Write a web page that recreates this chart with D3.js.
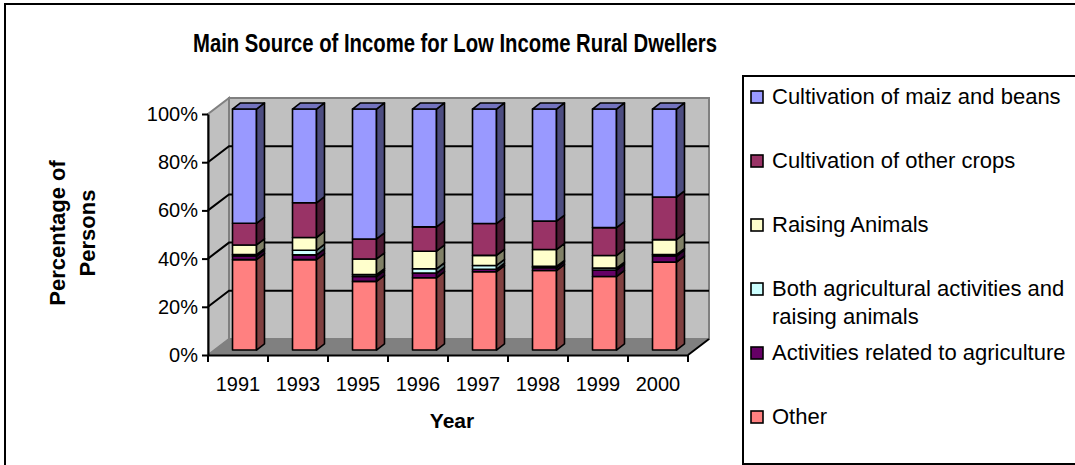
<!DOCTYPE html>
<html>
<head>
<meta charset="utf-8">
<script src="https://cdn.jsdelivr.net/npm/d3@7"></script>
<style>
  body { margin: 0; background: #fff; }
  svg { display: block; font-family: "Liberation Sans", Arial, sans-serif; }
</style>
</head>
<body>
<svg id="chart" width="1075" height="465"></svg>
<script>
// Survey years
const years = ["1991", "1993", "1995", "1996", "1997", "1998", "1999", "2000"];

// Share of persons (%) by main source of income, stacked bottom to top
const other      = [37.5, 37.5, 28.5, 30.0, 32.5, 33.0, 30.5, 36.5];
const activities = [1.5, 2.0, 2.0, 1.9, 1.0, 1.2, 2.7, 2.5];
const both       = [0.6, 1.9, 0.8, 1.8, 1.6, 0.5, 0.8, 0.6];
const raising    = [4.0, 5.3, 6.5, 7.3, 4.2, 7.0, 5.2, 6.2];
const crops      = [9.0, 14.4, 8.3, 10.1, 13.2, 11.8, 11.6, 17.7];
const maiz       = [47.4, 38.9, 53.9, 48.9, 47.5, 46.5, 49.2, 36.5];

const seriesKeys = ["other", "activities", "both", "raising", "crops", "maiz"];
const seriesLabels = [
  ["Other"],
  ["Activities related to agriculture"],
  ["Both agricultural activities and", "raising animals"],
  ["Raising Animals"],
  ["Cultivation of other crops"],
  ["Cultivation of maiz and beans"]
];
const seriesColors = ["#FF8080", "#660066", "#CCFFFF", "#FFFFCC", "#993366", "#9999FF"];

const yTicks = [0, 0.2, 0.4, 0.6, 0.8, 1];
const gridTicks = [0.2, 0.4, 0.6, 0.8];

const table = years.map((year, i) => ({
  year,
  other: other[i], activities: activities[i], both: both[i],
  raising: raising[i], crops: crops[i], maiz: maiz[i]
}));

const stacked = d3.stack().keys(seriesKeys).offset(d3.stackOffsetExpand)(table);

const svg = d3.select("#chart");

// outer chart frame
svg.append("rect")
  .attr("x", 5).attr("y", 4).attr("width", 1200).attr("height", 600)
  .attr("fill", "#fff").attr("stroke", "#000").attr("stroke-width", 2);

// title
svg.append("text")
  .attr("x", 455).attr("y", 52)
  .attr("text-anchor", "middle")
  .attr("font-size", 25).attr("font-weight", "bold")
  .attr("textLength", 524).attr("lengthAdjust", "spacingAndGlyphs")
  .text("Main Source of Income for Low Income Rural Dwellers");

// scales with an oblique depth projection
const x = d3.scaleBand().domain(years).range([208, 688]);
const y = d3.scaleLinear().domain([0, 1]).range([355, 114]);
const DX = 21, DY = -16;
const P = (px, v, d) => [px + d * DX, y(v) + d * DY];
const poly = pts => pts.map(p => p.join(",")).join(" ");
const xL = x.range()[0], xR = x.range()[1];

const shade = (c, k) => {
  const r = d3.rgb(c);
  return d3.rgb(r.r * k, r.g * k, r.b * k).formatHex();
};

// walls and floor
const walls = svg.append("g");
walls.append("polygon")
  .attr("points", poly([P(xL, 0, 0), P(xL, 0, 1), P(xL, 1, 1), P(xL, 1, 0)]))
  .attr("fill", "#C0C0C0").attr("stroke", "#808080").attr("stroke-width", 2);
walls.append("polygon")
  .attr("points", poly([P(xL, 0, 1), P(xR, 0, 1), P(xR, 1, 1), P(xL, 1, 1)]))
  .attr("fill", "#C0C0C0").attr("stroke", "#808080").attr("stroke-width", 2);
walls.append("polygon")
  .attr("points", poly([P(xL, 0, 0), P(xR, 0, 0), P(xR, 0, 1), P(xL, 0, 1)]))
  .attr("fill", "#808080").attr("stroke", "#808080").attr("stroke-width", 1);

// gridlines across side and back walls
walls.selectAll("polyline.grid").data(gridTicks).join("polyline")
  .attr("class", "grid")
  .attr("points", v => poly([P(xL, v, 0), P(xL, v, 1), P(xR, v, 1)]))
  .attr("fill", "none").attr("stroke", "#000").attr("stroke-width", 2);

// floor right edge
walls.append("line")
  .attr("x1", P(xR, 0, 0)[0]).attr("y1", P(xR, 0, 0)[1])
  .attr("x2", P(xR, 0, 1)[0]).attr("y2", P(xR, 0, 1)[1])
  .attr("stroke", "#000").attr("stroke-width", 2);

// bars
const D0 = 0.31, D1 = 0.69;
const bw = x.bandwidth();
const barsG = svg.append("g").attr("stroke", "#000").attr("stroke-width", 1.6)
  .attr("stroke-linejoin", "round");

years.forEach((year, i) => {
  const g = barsG.append("g");
  const xl = x(year) + bw * 0.3, xr = xl + bw * 0.4;
  stacked.forEach((layer, li) => {
    const v0 = layer[i][0], v1 = layer[i][1];
    const col = seriesColors[li];
    g.append("polygon")
      .attr("points", poly([P(xl, v0, D0), P(xr, v0, D0), P(xr, v1, D0), P(xl, v1, D0)]))
      .attr("fill", col);
    g.append("polygon")
      .attr("points", poly([P(xr, v0, D0), P(xr, v0, D1), P(xr, v1, D1), P(xr, v1, D0)]))
      .attr("fill", shade(col, 0.5));
    if (li === stacked.length - 1) {
      g.append("polygon")
        .attr("points", poly([P(xl, v1, D0), P(xr, v1, D0), P(xr, v1, D1), P(xl, v1, D1)]))
        .attr("fill", shade(col, 0.75));
    }
  });
});

// value axis
const yAxis = svg.append("g")
  .attr("transform", `translate(${xL},0)`)
  .call(d3.axisLeft(y).tickValues(yTicks).tickFormat(d3.format(".0%"))
    .tickSize(6).tickSizeOuter(0).tickPadding(4));
yAxis.select(".domain").attr("stroke", "#000").attr("stroke-width", 2);
yAxis.selectAll(".tick line").attr("stroke", "#000").attr("stroke-width", 2);
yAxis.selectAll(".tick text").attr("font-size", 20).attr("fill", "#000")
  .attr("font-family", "Liberation Sans, Arial, sans-serif");

// category axis
const xAxis = svg.append("g")
  .attr("transform", `translate(0,${y(0)})`)
  .call(d3.axisBottom(x).tickSize(0).tickSizeOuter(0).tickPadding(22));
xAxis.select(".domain").attr("stroke", "#000").attr("stroke-width", 2);
xAxis.selectAll(".tick text").attr("font-size", 20).attr("fill", "#000")
  .attr("font-family", "Liberation Sans, Arial, sans-serif");
xAxis.selectAll("line.boundary")
  .data(d3.range(years.length + 1).map(k => xL + k * x.step()))
  .join("line").attr("class", "boundary")
  .attr("x1", d => d).attr("x2", d => d).attr("y1", 0).attr("y2", 7)
  .attr("stroke", "#000").attr("stroke-width", 2);

// axis titles
svg.append("text")
  .attr("x", 452).attr("y", 428)
  .attr("text-anchor", "middle").attr("font-size", 21).attr("font-weight", "bold")
  .text("Year");

const yTitle = svg.append("g").attr("transform", "translate(65,233) rotate(-90)");
yTitle.append("text").attr("x", 0).attr("y", 0)
  .attr("text-anchor", "middle").attr("font-size", 22).attr("font-weight", "bold")
  .text("Percentage of");
yTitle.append("text").attr("x", 0).attr("y", 30)
  .attr("text-anchor", "middle").attr("font-size", 22).attr("font-weight", "bold")
  .text("Persons");

// legend
const legend = svg.append("g");
legend.append("rect")
  .attr("x", 743).attr("y", 76).attr("width", 400).attr("height", 388)
  .attr("fill", "#fff").attr("stroke", "#000").attr("stroke-width", 2);

const legendOrder = d3.range(seriesKeys.length).reverse();
legendOrder.forEach((si, row) => {
  const cy = 97 + row * 64;
  legend.append("rect")
    .attr("x", 751).attr("y", cy - 6).attr("width", 12).attr("height", 12)
    .attr("fill", seriesColors[si]).attr("stroke", "#000").attr("stroke-width", 1.6);
  seriesLabels[si].forEach((line, li) => {
    legend.append("text")
      .attr("x", 772).attr("y", cy + 7 + li * 27.7)
      .attr("font-size", 22).attr("fill", "#000")
      .text(line);
  });
});
</script>
</body>
</html>
